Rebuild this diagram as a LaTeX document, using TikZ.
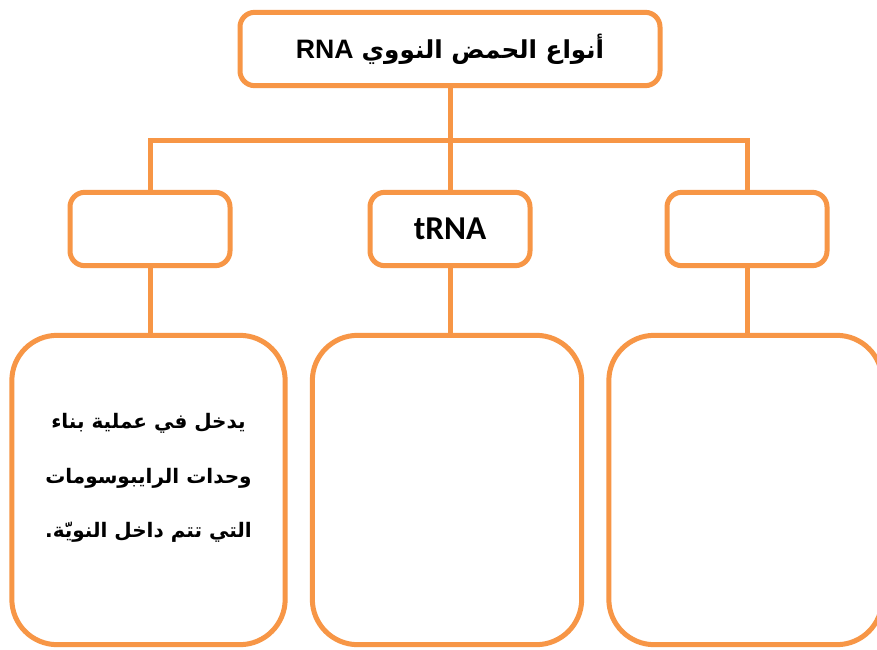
\documentclass[tikz,border=0pt]{standalone}
\usepackage{fontspec}
\setmainfont{Liberation Sans}
\newfontfamily\arabicfont[Script=Arabic]{DejaVu Sans}
\newfontfamily\calibrifont{Carlito}
\TeXXeTstate=1
\definecolor{boxorange}{RGB}{247,150,70}
\tikzset{
  box/.style={draw=boxorange,line width=3.75pt,fill=white,rounded corners=11pt,
    minimum width=120pt,minimum height=55pt,inner sep=0pt},
  bigbox/.style={box,rounded corners=34pt,minimum width=205pt,minimum height=232pt},
  link/.style={draw=boxorange,line width=3.75pt}
}
\begin{document}
\begin{tikzpicture}[x=0.75pt,y=-0.75pt]
  \clip (0,0) rectangle (877,649);
  \fill[white] (0,0) rectangle (877,649);
  % top level
  \node[box,minimum width=315pt] (types) at (450,49)
    {\bfseries\arabicfont\fontsize{18.5}{24}\selectfont\beginR أنواع الحمض النووي\hspace{6pt}{\rmfamily\fontsize{20}{24}\selectfont\beginL RNA\endL}\endR};
  \coordinate (bus) at (450,141);
  % second row
  \node[box] (left) at (150,229) {};
  \node[box] (mid) at (450,229) {\calibrifont\bfseries\fontsize{25}{30}\selectfont tRNA};
  \node[box] (right) at (747,229) {};
  % third row
  \node[bigbox] (leftbig) at (148.5,490) {};
  \node[bigbox,minimum width=202pt] (midbig) at (447,490) {};
  \node[bigbox] (rightbig) at (745.5,490) {};
  \node[align=center,font=\arabicfont\bfseries\fontsize{15}{41}\selectfont] (desc)
    at ([yshift=9pt]leftbig.center)
    {\beginR يدخل في عملية بناء\endR\\ \beginR وحدات الرايبوسومات\endR\\ \beginR التي تتم داخل النويّة.\endR};
  % connectors
  \draw[link] (types.south) -- (bus);
  \draw[link] (left.north) |- (bus) -| (right.north);
  \draw[link] (bus) -- (mid.north);
  \draw[link] (left.south) -- (left.south |- leftbig.north);
  \draw[link] (mid.south) -- (mid.south |- midbig.north);
  \draw[link] (right.south) -- (right.south |- rightbig.north);
\end{tikzpicture}
\end{document}
